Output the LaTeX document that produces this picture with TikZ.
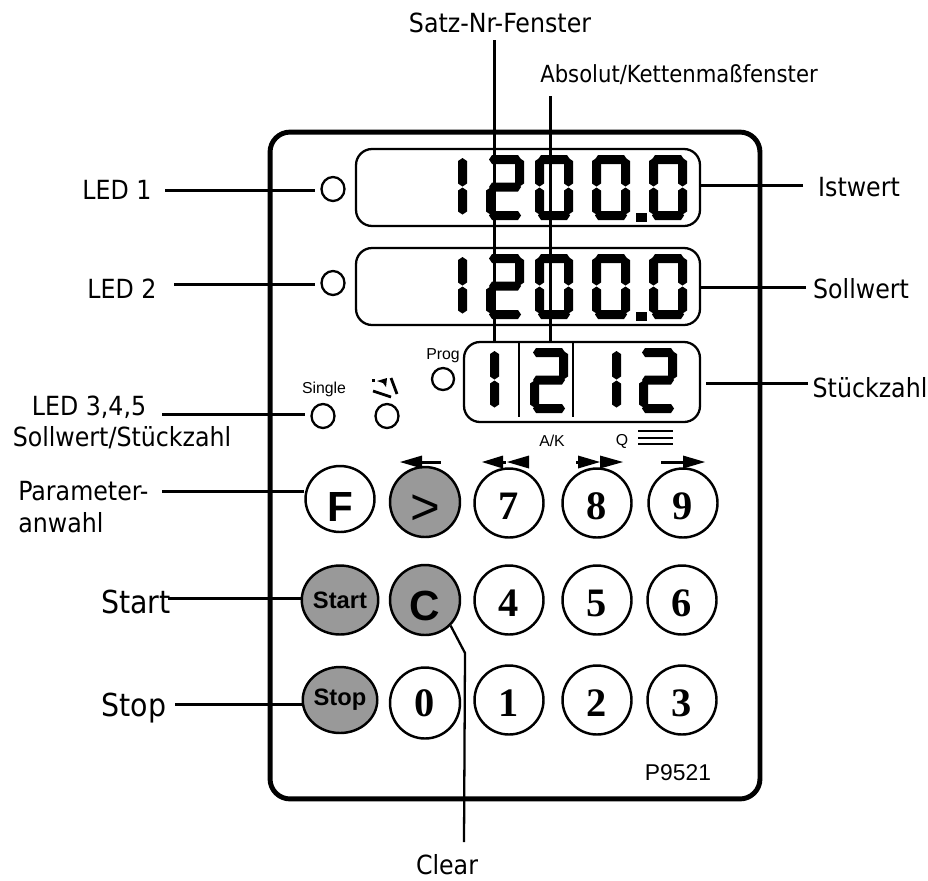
\documentclass[tikz,border=0pt]{standalone}
\usepackage{fontspec}
\usepackage{xcolor}
\usetikzlibrary{shapes.geometric}
\setmainfont{Liberation Sans}
\newfontfamily\labelfont{DejaVu Sans Condensed}
\newfontfamily\keyfont{Liberation Serif}
\definecolor{KeyGray}{HTML}{999999}
\newcommand{\hseg}[3]{\fill (#1,#2) -- ++(3,-4.5) -- ++({#3-6},0) -- ++(3,4.5) -- ++(-3,4.5) -- ++({6-#3},0) -- cycle;}
\newcommand{\vseg}[3]{\fill (#1,#2) -- ++(4.5,3) -- ++(0,{#3-6}) -- ++(-4.5,3) -- ++(-4.5,-3) -- ++(0,{6-#3}) -- cycle;}
\newcommand{\segA}{\hseg{3}{4.5}{32}}
\newcommand{\segB}{\vseg{33.5}{3}{28.5}}
\newcommand{\segC}{\vseg{33.5}{32.5}{27}}
\newcommand{\segD}{\hseg{3}{60.5}{32}}
\newcommand{\segE}{\vseg{4.5}{32.5}{27}}
\newcommand{\segF}{\vseg{4.5}{3}{28.5}}
\newcommand{\segG}{\hseg{3}{32}{32}}
\newcommand{\segdigit}[3]{\begin{scope}[shift={(#1,#2)}]\foreach \s in {#3}{\csname seg\s\endcsname}\end{scope}}
\newcommand{\readout}[1]{%
\segdigit{429}{#1}{B,C}
\segdigit{486}{#1}{A,B,G,E,D}
\segdigit{535}{#1}{A,B,C,D,E,F}
\segdigit{592}{#1}{A,B,C,D,E,F}
\segdigit{649}{#1}{A,B,C,D,E,F}
\fill (636,{#1+58}) rectangle (647,{#1+67});}
\tikzset{
frontpanel/.style={draw,line width=2.8pt,rounded corners=0.4cm,inner sep=0pt},
display/.style={draw,line width=1.3pt,rounded corners=0.32cm,inner sep=0pt},
led/.style={ellipse,draw,line width=1.3pt,inner sep=0pt,minimum width=0.46cm,minimum height=0.48cm},
keywhite/.style={ellipse,draw,line width=1.4pt,inner sep=0pt,minimum width=1.38cm,minimum height=1.38cm,text height=19pt,text depth=0pt,font=\keyfont\bfseries\fontsize{23}{23}\selectfont},
keygray/.style={ellipse,draw,line width=1.4pt,inner sep=0pt,minimum width=1.38cm,minimum height=1.38cm,fill=KeyGray,font=\bfseries\fontsize{13.5}{14}\selectfont},
leadline/.style={line width=1.7pt},
tinytext/.style={inner sep=0pt,font=\fontsize{9}{11}\selectfont},
marktext/.style={inner sep=0pt,font=\labelfont\fontsize{15}{18}\selectfont},
bigtext/.style={inner sep=0pt,font=\labelfont\fontsize{18}{20}\selectfont}
}
\begin{document}
\begin{tikzpicture}[x=0.02cm,y=-0.02cm]
\path[use as bounding box] (0,0) rectangle (928,880);
\node[frontpanel,minimum width=9.8cm,minimum height=13.34cm] (panel) at (515,465.5) {};
\node[display,minimum width=6.88cm,minimum height=1.54cm] (dispOne) at (528,187.5) {};
\node[display,minimum width=6.88cm,minimum height=1.54cm] (dispTwo) at (528,286.5) {};
\node[display,minimum width=4.72cm,minimum height=1.6cm] (dispThree) at (582,382) {};
\readout{155}
\readout{254}
\segdigit{461}{348}{B,C}
\segdigit{530}{348}{A,B,G,E,D}
\segdigit{583}{348}{B,C}
\segdigit{639}{348}{A,B,G,E,D}
\draw[line width=1.6pt] (519,342) -- (519,417);
\draw[line width=1.6pt] (573,342) -- (573,417);
% leds
\node[led] (ledOne) at (333,189) {};
\node[led] (ledTwo) at (333,283) {};
\node[led] (ledSingle) at (323,416) {};
\node[led] (ledHand) at (387,416) {};
\node[led,minimum width=0.44cm,minimum height=0.44cm] (ledProg) at (443,379) {};
\node[tinytext] (txtSingle) at (324,389) {Single};
\node[tinytext] (txtProg) at (443,356) {Prog};
\node[tinytext] (txtAK) at (552,441) {A/K};
\node[tinytext] (txtQ) at (622,441) {Q};
\node[inner sep=0pt,font=\fontsize{13}{15}\selectfont] (txtType) at (678,773) {P9521};
% hand symbol
\draw[line width=1.6pt] (373,391) -- (391,397);
\draw[line width=1.6pt] (391,378) -- (397,394);
\fill (377,381) -- (387,378) -- (386,387) -- (383,383) -- cycle;
\fill (372,379) rectangle (375,382);
% quality bars
\foreach \y in {431,438,444}{\draw[line width=1.4pt] (638,\y) -- (673,\y);}
% keys
\node[keywhite,minimum height=1.32cm,text height=26pt,font=\bfseries\fontsize{24}{24}\selectfont] (keyF) at (340,499) {F};
\node[keygray,minimum width=1.4cm,minimum height=1.4cm,text height=26pt,text depth=0pt,font=\fontsize{29}{29}\selectfont] (keyNext) at (425,502) {>};
\node[keygray] (keyStart) at (340,600) {Start};
\node[keygray,minimum width=1.4cm,minimum height=1.4cm,text height=23pt,text depth=0pt,font=\bfseries\fontsize{24}{24}\selectfont] (keyC) at (425,600) {C};
\node[keygray,minimum height=1.32cm] (keyStop) at (340,700) {Stop};
\node[keywhite,minimum width=1.4cm,minimum height=1.42cm,text height=15.5pt] (keyZero) at (425,703) {0};
\foreach \d/\x/\y in {7/509/503,8/597/503,9/683/503,4/509/600,5/597/600,6/682/600,1/509/700,2/597/700,3/682/700}{
\node[keywhite] (key\d) at (\x,\y) {\d};
}
% arrows above the keys
\fill (400,462) -- (422,455.5) -- (422,468.5) -- cycle;
\fill (420,460.5) rectangle (441,463.5);
\fill (482,462) -- (503,455.5) -- (503,468.5) -- cycle;
\fill (502,460.5) rectangle (506,463.5);
\fill (507,462) -- (529,455.5) -- (529,468.5) -- cycle;
\fill (576,460.5) rectangle (579,463.5);
\fill (600,462) -- (578,455.5) -- (578,468.5) -- cycle;
\fill (623,462) -- (600,455.5) -- (600,468.5) -- cycle;
\fill (661,460.5) rectangle (684,463.5);
\fill (705,462) -- (683,455.5) -- (683,468.5) -- cycle;
% labels
\node[marktext] (lblSatz) at (500,23) {Satz-Nr-Fenster};
\node[marktext,font=\labelfont\fontsize{13.4}{16}\selectfont] (lblAbsolut) at (679,75) {Absolut/Kettenmaßfenster};
\node[marktext] (lblLedOne) at (117,190) {LED 1};
\node[marktext] (lblLedTwo) at (122,289) {LED 2};
\node[marktext] (lblLedThree) at (89,407) {LED 3,4,5};
\node[marktext] (lblSollStueck) at (122,438) {Sollwert/Stückzahl};
\node[marktext,anchor=west,align=left] (lblParam) at (18,507) {Parameter-\\anwahl};
\node[bigtext] (lblStart) at (136,602) {Start};
\node[bigtext] (lblStop) at (134,708) {Stop};
\node[marktext] (lblClear) at (447,865) {Clear};
\node[marktext] (lblIst) at (859,187) {Istwert};
\node[marktext] (lblSoll) at (861,289) {Sollwert};
\node[marktext] (lblStueck) at (870,388) {Stückzahl};
% connectors
\coordinate (satzFree) at (494,40);
\coordinate (absolutFree) at (550,96);
\coordinate (ledOneFree) at (165,190);
\coordinate (ledTwoFree) at (174,284);
\coordinate (ledThreeFree) at (162,414);
\coordinate (paramFree) at (162,491);
\coordinate (startFree) at (168,598);
\coordinate (stopFree) at (175,704);
\coordinate (istFree) at (803,185);
\coordinate (sollFree) at (806,287);
\coordinate (stueckFree) at (808,383);
\coordinate (clearBend) at (465,653);
\coordinate (clearFree) at (464,842);
\draw[leadline] (satzFree) -- (satzFree |- dispThree.north);
\draw[leadline] (absolutFree) -- (absolutFree |- dispThree.north);
\draw[leadline,shorten >=3] (ledOneFree) -- (ledOneFree -| ledOne.west);
\draw[leadline,shorten >=3] (ledTwoFree) -- (ledTwoFree -| ledTwo.west);
\draw[leadline,shorten >=3] (ledThreeFree) -- (ledThreeFree -| ledSingle.west);
\draw[leadline] (paramFree) -- (paramFree -| keyF.west);
\draw[leadline] (startFree) -- (startFree -| keyStart.west);
\draw[leadline] (stopFree) -- (stopFree -| keyStop.west);
\draw[leadline] (istFree) -- (istFree -| dispOne.east);
\draw[leadline] (sollFree) -- (sollFree -| dispTwo.east);
\draw[leadline,shorten >=3] (stueckFree) -- (stueckFree -| dispThree.east);
\draw[leadline,line width=1.3pt] (keyC.south east) -- (clearBend) -- (clearFree);
\end{tikzpicture}
\end{document}
